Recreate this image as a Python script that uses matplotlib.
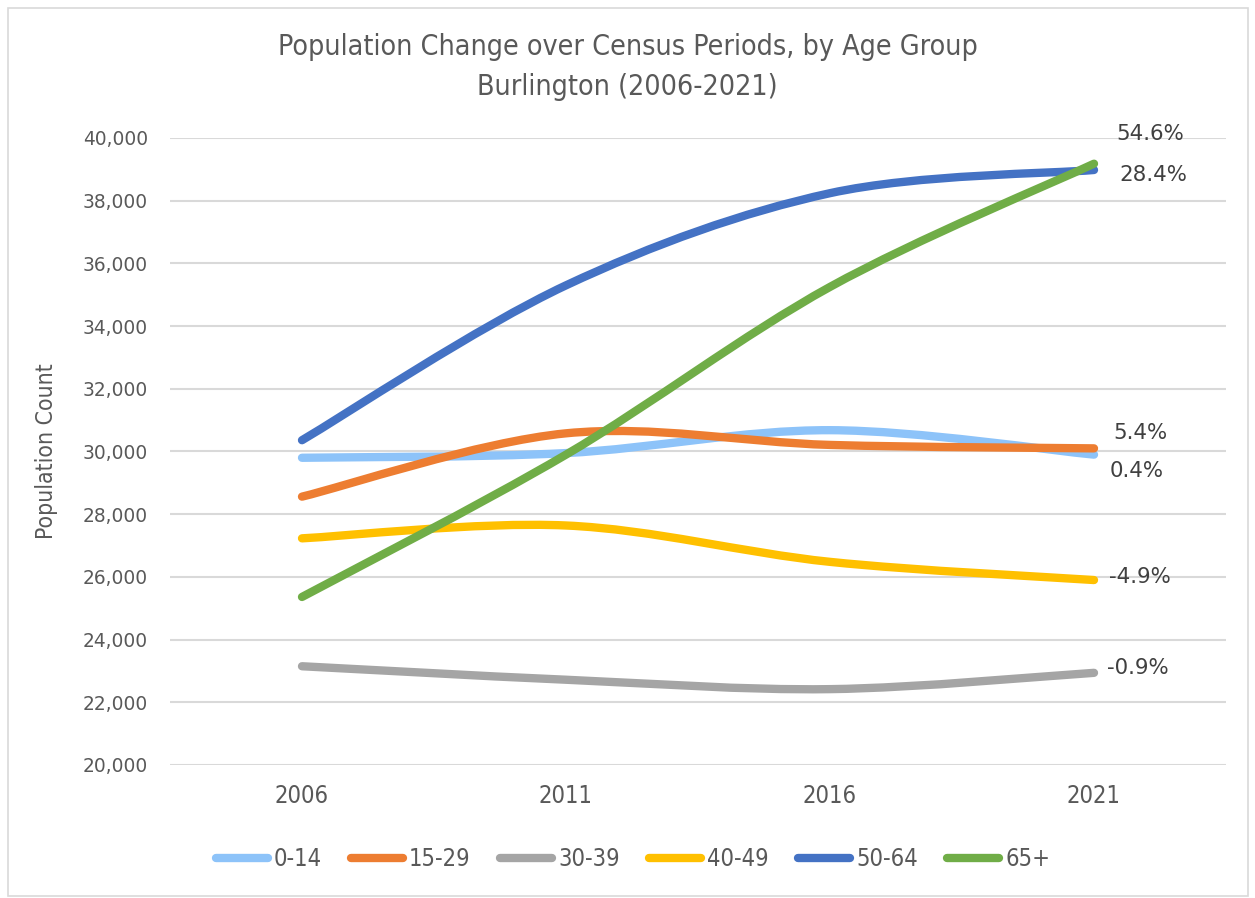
import matplotlib
matplotlib.use("Agg")
import matplotlib.pyplot as plt
from matplotlib.path import Path
from matplotlib.patches import PathPatch, Rectangle
from matplotlib.lines import Line2D
from matplotlib.ticker import FuncFormatter
import numpy as np

# Census data
years = ["2006", "2011", "2016", "2021"]
groups = ["0-14", "15-29", "30-39", "40-49", "50-64", "65+"]
pop_0_14 = [29800, 29950, 30680, 29900]
pop_15_29 = [28560, 30580, 30210, 30100]
pop_30_39 = [23150, 22720, 22420, 22940]
pop_40_49 = [27230, 27640, 26480, 25900]
pop_50_64 = [30360, 35300, 38240, 38980]
pop_65_plus = [25360, 29900, 35250, 39180]
change_labels = ["0.4%", "5.4%", "-0.9%", "-4.9%", "28.4%", "54.6%"]

series = [pop_0_14, pop_15_29, pop_30_39, pop_40_49, pop_50_64, pop_65_plus]
colors = ["#8DC3F9", "#ED7D31", "#A5A5A5", "#FFC000", "#4472C4", "#70AD47"]
# label offsets from the last point, in pixels
label_offsets = [(16, -16), (19, 15), (13, 5), (15, 3), (25, -5), (22, 30)]

TEXT = "#595959"
GRID = "#D9D9D9"
NARROW = dict(family="DejaVu Sans", stretch="condensed")


def smooth_path(xs, ys):
    # Excel-style smoothed line: cubic bezier through each point
    pts = np.column_stack([xs, ys]).astype(float)
    n = len(pts)
    verts = [pts[0]]
    codes = [Path.MOVETO]
    for i in range(n - 1):
        p0 = pts[i - 1] if i > 0 else pts[i]
        p1 = pts[i]
        p2 = pts[i + 1]
        p3 = pts[i + 2] if i + 2 < n else pts[i + 1]
        c1 = p1 + (p2 - p0) / 6.0
        c2 = p2 - (p3 - p1) / 6.0
        verts += [c1, c2, p2]
        codes += [Path.CURVE4] * 3
    return Path(verts, codes)


fig = plt.figure(figsize=(12.55, 8.98), dpi=100)
fig.patches.append(Rectangle((8 / 1255, 2 / 898), 1240 / 1255, 888 / 898,
                             transform=fig.transFigure, fill=False,
                             edgecolor=GRID, linewidth=1.2))

ax = fig.add_axes([170 / 1255, 1 - 765 / 898, 1056 / 1255, 627 / 898])
x = np.arange(len(years))

for vals, color, lab, off in zip(series, colors, change_labels, label_offsets):
    patch = PathPatch(smooth_path(x, vals), facecolor="none", edgecolor=color,
                      linewidth=6, capstyle="round", joinstyle="round", zorder=3)
    ax.add_patch(patch)
    ax.annotate(lab, (x[-1], vals[-1]), xytext=off, textcoords="offset pixels",
                ha="left", va="center", fontsize=15.4, color="#404040",
                family="DejaVu Sans")

ax.set_xlim(-0.5, len(years) - 0.5)
ax.set_ylim(20000, 40000)
ax.set_yticks(np.arange(20000, 40001, 2000))
ax.yaxis.set_major_formatter(FuncFormatter(lambda v, p: f"{int(v):,}"))
ax.set_xticks(x)
ax.set_xticklabels(years)
ax.grid(axis="y", color=GRID, linewidth=1.5)
ax.set_axisbelow(True)
for s in ax.spines.values():
    s.set_visible(False)
ax.tick_params(axis="y", length=0, labelsize=13.4, colors=TEXT, pad=16)
ax.tick_params(axis="x", length=0, labelsize=17, colors=TEXT, pad=14)
for t in ax.get_xticklabels():
    t.set_fontstretch("condensed")

ax.set_ylabel("Population Count", fontsize=16.5, color=TEXT, **NARROW)
ax.yaxis.set_label_coords((58 - 170) / 1056, 0.5)

fig.text(0.5, 1 - 47 / 898, "Population Change over Census Periods, by Age Group",
         ha="center", va="center", fontsize=20.5, color=TEXT, **NARROW)
fig.text(0.5, 1 - 87 / 898, "Burlington (2006-2021)",
         ha="center", va="center", fontsize=20.5, color=TEXT, **NARROW)

handles = [Line2D([0], [0], color=c, linewidth=6, solid_capstyle="round") for c in colors]
leg = fig.legend(handles, groups, loc="center", bbox_to_anchor=(633 / 1255, 1 - 859 / 898),
                 ncol=6, frameon=False, handlelength=2.2, handletextpad=0.25,
                 columnspacing=1.25, prop={"family": "DejaVu Sans", "stretch": "condensed", "size": 17})
for t in leg.get_texts():
    t.set_color(TEXT)

fig.savefig("out.png", dpi=100)
